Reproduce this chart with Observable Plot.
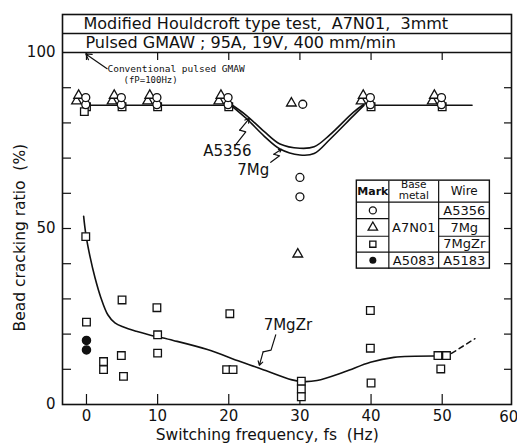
<!DOCTYPE html>
<html><head><meta charset="utf-8">
<script src="https://cdn.jsdelivr.net/npm/d3@7"></script>
<script src="https://cdn.jsdelivr.net/npm/@observablehq/plot@0.6"></script>
<style>body{margin:0;background:#fff} svg{font-family:"DejaVu Sans",sans-serif}</style>
</head><body><div id="chart"></div>
<script>
// ---- data ----
const xTicks = [0, 10, 20, 30, 40, 50];
const yLabels = [0, 50, 100];
const yMinor = [10, 20, 30, 40, 50, 60, 70, 80, 90];
const clusterX = [0, 5, 10, 20, 40, 50];

// open circles: base A7N01, wire A5356
const circlesA5356 = [
  ...clusterX.flatMap(x => [{x: x - 0.1, y: 85.2}, {x: x - 0.1, y: 87.2}]),
  {x: 30.4, y: 85.3}, {x: 30, y: 64.5}, {x: 30, y: 59}
];
// triangles: base A7N01, wire 7Mg
const triangles7Mg = [
  ...clusterX.flatMap(x => [{x: x - 1.4, y: 86.2}, {x: x - 1.1, y: 87.8}]),
  {x: 28.8, y: 85.6}, {x: 29.7, y: 42.7}
];
// squares: base A7N01, wire 7MgZr
const squares7MgZr = [
  ...clusterX.map(x => ({x: x, y: 84.6})),
  {x: -0.3, y: 83.2},
  {x: -0.1, y: 47.7}, {x: 0, y: 23.4},
  {x: 2.4, y: 12.2}, {x: 2.4, y: 9.9},
  {x: 5.0, y: 29.7}, {x: 4.9, y: 13.9}, {x: 5.2, y: 8.0},
  {x: 9.9, y: 27.5}, {x: 10, y: 19.8}, {x: 10, y: 14.6},
  {x: 20.15, y: 25.8}, {x: 19.7, y: 9.9}, {x: 20.6, y: 9.9},
  {x: 30.2, y: 6.6}, {x: 30.2, y: 4.4}, {x: 30.2, y: 2.2},
  {x: 39.9, y: 26.7}, {x: 39.9, y: 16.0}, {x: 40, y: 6.1},
  {x: 49.4, y: 13.9}, {x: 50.6, y: 13.9}, {x: 49.8, y: 10.1}
];
// filled circles: base A5083, wire A5183
const filledA5183 = [{x: 0, y: 18.2}, {x: 0, y: 15.5}];

// fitted curves
const topLeft = [{x: 0, y: 85}, {x: 20, y: 85}];
const topRight = [{x: 40, y: 85}, {x: 54.2, y: 85}];
const curveA5356 = [
  {x: 20.3, y: 85.3}, {x: 22.5, y: 82.1}, {x: 25, y: 77.5}, {x: 27.2, y: 74},
  {x: 30, y: 72.8}, {x: 32, y: 73.2}, {x: 34.2, y: 76.6}, {x: 37.5, y: 83}, {x: 39, y: 85.3}
];
const curve7Mg = [
  {x: 20.3, y: 85}, {x: 22.5, y: 81.2}, {x: 25, y: 76.2}, {x: 27.2, y: 72.6},
  {x: 30, y: 70.9}, {x: 32, y: 71.3}, {x: 34.2, y: 75.3}, {x: 37.5, y: 82}, {x: 39, y: 85}
];
const curve7MgZr = [
  {x: -0.4, y: 53.5}, {x: -0.1, y: 48.5}, {x: 0.5, y: 42}, {x: 1.2, y: 36}, {x: 2, y: 30.5},
  {x: 3, y: 25.5}, {x: 4, y: 23.2}, {x: 5.2, y: 22}, {x: 7, y: 20.8}, {x: 9, y: 19.7},
  {x: 12.2, y: 18.2}, {x: 17, y: 15.6}, {x: 21.6, y: 12.2}, {x: 24.2, y: 10.4},
  {x: 28.9, y: 7}, {x: 30.5, y: 6.5}, {x: 32.4, y: 6.8}, {x: 36.2, y: 9.2},
  {x: 39.9, y: 12}, {x: 43.2, y: 13.4}, {x: 48.8, y: 13.8}
];
const curve7MgZrDash = [{x: 51.3, y: 14.5}, {x: 54.6, y: 18.7}];

// texts
const title1 = "Modified Houldcroft type test,  A7N01,  3mmt";
const title2 = "Pulsed GMAW ; 95A, 19V, 400 mm/min";
const xLabel = "Switching frequency, fs  (Hz)";
const yLabel = "Bead cracking ratio  (%)";
const noteLines = ["Conventional pulsed GMAW", "(fP=100Hz)"];
const curveLabels = [
  {text: "A5356", x: 16.4, y: 71.9},
  {text: "7Mg", x: 21.2, y: 66.5},
  {text: "7MgZr", x: 24.9, y: 22.4}
];
const bolts = [
  {from: [20.9, 73.6], to: [22.9, 81.3]},
  {from: [25.9, 68.8], to: [27.4, 72.5]},
  {from: [26.6, 19.8], to: [24.3, 11.1]}
];
const legendHeader = ["Mark", "Base", "metal", "Wire"];
const legendBase = ["A7N01", "A5083"];
const legendWire = ["A5356", "7Mg", "7MgZr", "A5183"];

// ---- layout ----
const W = 517, H = 444, mL = 62, mR = 6, mT = 14, mB = 40;
const xDom = [-3.37, 59.74], yDom = [0, 110.8];
const kx = (W - mL - mR) / (xDom[1] - xDom[0]);
const ky = (H - mT - mB) / (yDom[1] - yDom[0]);

function boltPath(b) {
  const [x0, y0] = b.from, [x3, y3] = b.to;
  const px0 = x0 * kx, py0 = -y0 * ky, px3 = x3 * kx, py3 = -y3 * ky;
  const dx = px3 - px0, dy = py3 - py0, L = Math.hypot(dx, dy);
  const ux = dx / L, uy = dy / L;
  const mx = px0 + dx * 0.5, my = py0 + dy * 0.5;
  const a = {x: (mx + 3.5) / kx, y: -(my) / ky};
  const bb = {x: (mx - 3.5 + ux * 2) / kx, y: -(my + uy * 2) / ky};
  return [{x: x0, y: y0}, a, bb, {x: x3, y: y3}];
}
const boltLines = bolts.map(boltPath);

const c = [38.0, 42.5, 49.5, 56.7];
const r = [63.6, 57.5, 52.8, 47.8, 43.3, 38.6];
const rowMid = [0, 1, 2, 3].map(i => (r[i + 1] + r[i + 2]) / 2);
const legendSegs = [
  {x1: c[0], x2: c[3], y1: r[1], y2: r[1]},
  {x1: c[0], x2: c[1], y1: r[2], y2: r[2]},
  {x1: c[2], x2: c[3], y1: r[2], y2: r[2]},
  {x1: c[0], x2: c[1], y1: r[3], y2: r[3]},
  {x1: c[2], x2: c[3], y1: r[3], y2: r[3]},
  {x1: c[0], x2: c[3], y1: r[4], y2: r[4]},
  {x1: c[1], x2: c[1], y1: r[0], y2: r[5]},
  {x1: c[2], x2: c[2], y1: r[0], y2: r[5]}
];

const ink = "#111";
const dotOpts = {x: "x", y: "y", fill: "white", stroke: ink, strokeWidth: 1.3};

const chart = Plot.plot({
  width: W, height: H,
  marginLeft: mL, marginRight: mR, marginTop: mT, marginBottom: mB,
  x: {domain: xDom},
  y: {domain: yDom},
  style: {fontFamily: "DejaVu Sans, sans-serif", color: ink, background: "white"},
  marks: [
    Plot.frame({stroke: ink, strokeWidth: 1.6}),
    Plot.ruleY([100, 105.4], {stroke: ink, strokeWidth: 1.4}),
    // ticks
    Plot.ruleY(yMinor, {x1: xDom[0], x2: xDom[0] + 9 / kx, stroke: ink, strokeWidth: 1.2}),
    Plot.ruleY(yMinor, {x1: xDom[1] - 7 / kx, x2: xDom[1], stroke: ink, strokeWidth: 1.2}),
    Plot.ruleX(xTicks, {y1: 0, y2: 10 / ky, stroke: ink, strokeWidth: 1.2}),
    Plot.ruleX(xTicks, {y1: 100, y2: 100 - 8 / ky, stroke: ink, strokeWidth: 1.2}),
    Plot.axisX(xTicks, {tickSize: 0, tickPadding: 6, fontSize: 15, label: null}),
    Plot.axisY(yLabels, {tickSize: 0, tickPadding: 7, fontSize: 15, label: null}),
    Plot.text(["60"], {x: 60, y: 0, dy: 13, dx: 5, textAnchor: "end", fontSize: 15, lineAnchor: "middle"}),
    Plot.text([xLabel], {x: 25.4, y: 0, dy: 31, fontSize: 15.5, fill: ink}),
    Plot.text([yLabel], {frameAnchor: "left", y: 47.4, dx: -42, rotate: -90, textAnchor: "middle", fontSize: 15.5, fill: ink}),
    // titles
    Plot.text([title1], {x: -0.42, y: 108.0, textAnchor: "start", fontSize: 16, fill: ink}),
    Plot.text([title2], {x: -0.14, y: 102.6, textAnchor: "start", fontSize: 16, fill: ink}),
    // note
    Plot.text([noteLines[0]], {x: 2.95, y: 95.3, textAnchor: "start", fontSize: 9.5, fontFamily: "DejaVu Sans Mono", fill: ink}),
    Plot.text([noteLines[1]], {x: 5.2, y: 92.2, textAnchor: "start", fontSize: 9, fontFamily: "DejaVu Sans Mono", fill: ink}),
    Plot.arrow([{}], {x1: 2.9, y1: 95.4, x2: -0.1, y2: 99.6, headLength: 8, stroke: ink, strokeWidth: 1.2}),
    // curves
    Plot.line(topLeft, {x: "x", y: "y", stroke: ink, strokeWidth: 1.5}),
    Plot.line(topRight, {x: "x", y: "y", stroke: ink, strokeWidth: 1.5}),
    Plot.line(curveA5356, {x: "x", y: "y", stroke: ink, strokeWidth: 1.6, curve: "catmull-rom"}),
    Plot.line(curve7Mg, {x: "x", y: "y", stroke: ink, strokeWidth: 1.6, curve: "catmull-rom"}),
    Plot.line(curve7MgZr, {x: "x", y: "y", stroke: ink, strokeWidth: 1.6, curve: "catmull-rom"}),
    Plot.line(curve7MgZrDash, {x: "x", y: "y", stroke: ink, strokeWidth: 1.5, strokeDasharray: "5,4"}),
    // bolts
    ...boltLines.map(p => Plot.line(p.slice(0, 3), {x: "x", y: "y", stroke: ink, strokeWidth: 1.2})),
    Plot.arrow(boltLines, {x1: p => p[2].x, y1: p => p[2].y, x2: p => p[3].x, y2: p => p[3].y, headLength: 6, stroke: ink, strokeWidth: 1.2}),
    Plot.text(curveLabels, {x: "x", y: "y", text: "text", textAnchor: "start", fontSize: 15, fill: ink}),
    // data points
    Plot.dot(squares7MgZr, {...dotOpts, symbol: "square", r: 4.3}),
    Plot.dot(triangles7Mg, {...dotOpts, symbol: "triangle", r: 3.6}),
    Plot.dot(circlesA5356, {...dotOpts, symbol: "circle", r: 4}),
    Plot.dot(filledA5183, {x: "x", y: "y", symbol: "circle", r: 4, fill: ink, stroke: ink}),
    // legend table
    Plot.rect([{}], {x1: c[0], x2: c[3], y1: r[5], y2: r[0], fill: "white", stroke: ink, strokeWidth: 1.4}),
    Plot.link(legendSegs, {x1: "x1", x2: "x2", y1: "y1", y2: "y2", stroke: ink, strokeWidth: 1.2}),
    Plot.text([legendHeader[0]], {x: (c[0] + c[1]) / 2, y: (r[0] + r[1]) / 2, fontSize: 11, fontWeight: "bold", fill: ink}),
    Plot.text([legendHeader[1]], {x: (c[1] + c[2]) / 2, y: 62.4, fontSize: 10.5, fill: ink}),
    Plot.text([legendHeader[2]], {x: (c[1] + c[2]) / 2, y: 59.3, fontSize: 10.5, fill: ink}),
    Plot.text([legendHeader[3]], {x: (c[2] + c[3]) / 2, y: (r[0] + r[1]) / 2, fontSize: 12, fill: ink}),
    Plot.dot([{x: (c[0] + c[1]) / 2, y: rowMid[0]}], {...dotOpts, symbol: "circle", r: 3.5}),
    Plot.dot([{x: (c[0] + c[1]) / 2, y: rowMid[1]}], {...dotOpts, symbol: "triangle", r: 3.5}),
    Plot.dot([{x: (c[0] + c[1]) / 2, y: rowMid[2]}], {...dotOpts, symbol: "square", r: 3.5}),
    Plot.dot([{x: (c[0] + c[1]) / 2, y: rowMid[3]}], {x: "x", y: "y", symbol: "circle", r: 3.5, fill: ink}),
    Plot.text([legendBase[0]], {x: (c[1] + c[2]) / 2, y: rowMid[1], fontSize: 13, fill: ink}),
    Plot.text([legendBase[1]], {x: (c[1] + c[2]) / 2, y: rowMid[3], fontSize: 13, fill: ink}),
    Plot.text(legendWire.map((t, i) => ({t, y: rowMid[i]})), {x: (c[2] + c[3]) / 2, y: "y", text: "t", fontSize: 13, fill: ink})
  ]
});
document.getElementById("chart").appendChild(chart);
</script>
</body></html>
